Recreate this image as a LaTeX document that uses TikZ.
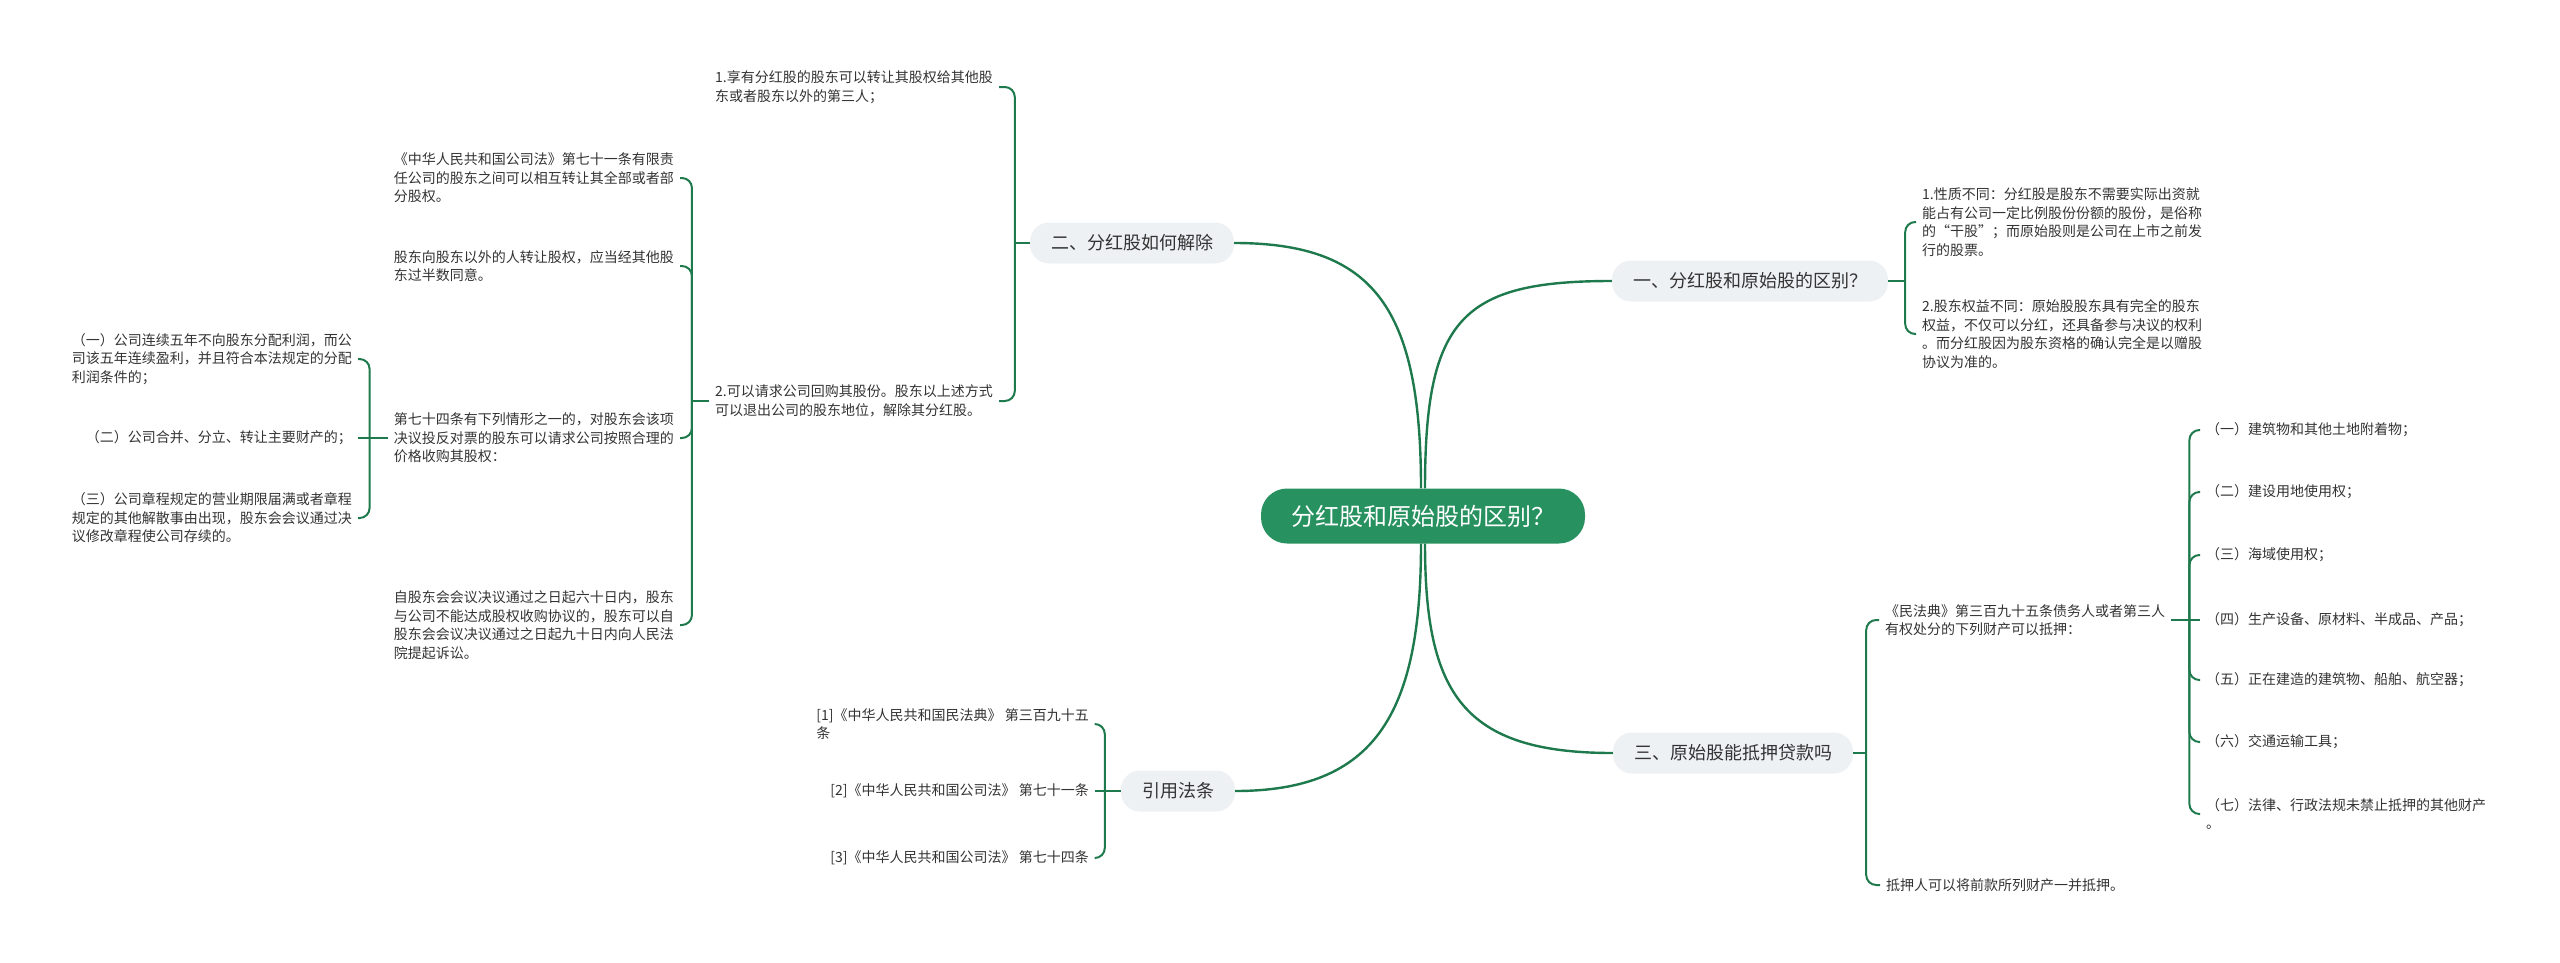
\documentclass[tikz,border=0pt]{standalone}
\usepackage{fontspec}
\setmainfont{Noto Sans CJK SC}
\usepackage{xcolor}
\usepackage{tikz}
\usetikzlibrary{arrows.meta,positioning,calc}
\definecolor{rootgreen}{RGB}{40,145,96}
\definecolor{linegreen}{RGB}{30,122,76}
\definecolor{topicgray}{RGB}{238,241,244}
\definecolor{textgray}{RGB}{51,51,51}
\tikzset{
  rootbox/.style={fill=rootgreen, text=white, rounded corners=26pt,
    minimum height=55pt, inner xsep=30pt, font=\fontsize{24}{28}\selectfont},
  topicbox/.style={fill=topicgray, text=textgray, rounded corners=19pt,
    minimum height=41pt, inner xsep=21pt, font=\fontsize{18}{22}\selectfont},
  leaf/.style={text=textgray, align=left, inner xsep=6pt, inner ysep=2pt,
    font=\fontsize{14}{18.5}\selectfont},
  trunk/.style={draw=linegreen, line width=2.4pt},
  link/.style={draw=linegreen, line width=2pt, rounded corners=10pt}
}

\begin{document}
\begin{tikzpicture}[x=1pt, y=-1pt]
\useasboundingbox (0,0) rectangle (2560,962);
% centre and main topics
\node[rootbox] (root) at (1423,516) {分红股和原始股的区别？};
\node[topicbox] (t1) at (1750,281) {一、分红股和原始股的区别？};
\node[topicbox] (t2) at (1132,243) {二、分红股如何解除};
\node[topicbox] (t3) at (1178,791) {引用法条};
\node[topicbox] (t4) at (1733,753) {三、原始股能抵押贷款吗};

\draw[trunk] ([xshift=2pt]root.north) .. controls +(0,-170) and +(-150,0) .. (t1.west);
\draw[trunk] ([xshift=-2pt]root.north) .. controls +(0,-180) and +(140,0) .. (t2.east);
\draw[trunk] ([xshift=-2pt]root.south) .. controls +(0,170) and +(140,0) .. (t3.east);
\draw[trunk] ([xshift=2pt]root.south) .. controls +(0,150) and +(-150,0) .. (t4.west);

% 一
\coordinate (j1) at ([xshift=17pt]t1.east);
\node[leaf, anchor=west] (a1) at (1916,222) {1.性质不同：分红股是股东不需要实际出资就\\能占有公司一定比例股份份额的股份，是俗称\\的“干股”；而原始股则是公司在上市之前发\\行的股票。};
\node[leaf, anchor=west] (a2) at (1916,334) {2.股东权益不同：原始股股东具有完全的股东\\权益，不仅可以分红，还具备参与决议的权利\\。而分红股因为股东资格的确认完全是以赠股\\协议为准的。};
\draw[link] (t1.east) -- (j1);
\draw[link] (j1) |- (a1.west);
\draw[link] (j1) |- (a2.west);

% 二
\coordinate (j2) at ([xshift=-15pt]t2.west);
\node[leaf, anchor=east] (b1) at (999,87) {1.享有分红股的股东可以转让其股权给其他股\\东或者股东以外的第三人；};
\node[leaf, anchor=east] (b2) at (999,401) {2.可以请求公司回购其股份。股东以上述方式\\可以退出公司的股东地位，解除其分红股。};
\draw[link] (t2.west) -- (j2);
\draw[link] (j2) |- (b1.east);
\draw[link] (j2) |- (b2.east);

\coordinate (jb) at ([xshift=-17pt]b2.west);
\node[leaf, anchor=east] (c1) at (680,178) {《中华人民共和国公司法》第七十一条有限责\\任公司的股东之间可以相互转让其全部或者部\\分股权。};
\node[leaf, anchor=east] (c2) at (680,266) {股东向股东以外的人转让股权，应当经其他股\\东过半数同意。};
\node[leaf, anchor=east] (c3) at (680,438) {第七十四条有下列情形之一的，对股东会该项\\决议投反对票的股东可以请求公司按照合理的\\价格收购其股权：};
\node[leaf, anchor=east] (c4) at (680,625) {自股东会会议决议通过之日起六十日内，股东\\与公司不能达成股权收购协议的，股东可以自\\股东会会议决议通过之日起九十日内向人民法\\院提起诉讼。};
\draw[link] (b2.west) -- (jb);
\draw[link] (jb) |- (c1.east);
\draw[link] (jb) |- (c2.east);
\draw[link] (jb) |- (c3.east);
\draw[link] (jb) |- (c4.east);

\coordinate (jc) at ([xshift=-18pt]c3.west);
\node[leaf, anchor=east] (d1) at (358,359) {（一）公司连续五年不向股东分配利润，而公\\司该五年连续盈利，并且符合本法规定的分配\\利润条件的；};
\node[leaf, anchor=east] (d2) at (358,438) {（二）公司合并、分立、转让主要财产的；};
\node[leaf, anchor=east] (d3) at (358,518) {（三）公司章程规定的营业期限届满或者章程\\规定的其他解散事由出现，股东会会议通过决\\议修改章程使公司存续的。};
\draw[link] (c3.west) -- (jc);
\draw[link] (jc) |- (d1.east);
\draw[link] (jc) -- (d2.east);
\draw[link] (jc) |- (d3.east);

% 引用法条
\coordinate (j3) at ([xshift=-16pt]t3.west);
\node[leaf, anchor=east] (e1) at (1095,724) {[1]《中华人民共和国民法典》 第三百九十五\\条};
\node[leaf, anchor=east] (e2) at (1095,791) {[2]《中华人民共和国公司法》 第七十一条};
\node[leaf, anchor=east] (e3) at (1095,858) {[3]《中华人民共和国公司法》 第七十四条};
\draw[link] (t3.west) -- (j3);
\draw[link] (j3) |- (e1.east);
\draw[link] (j3) -- (e2.east);
\draw[link] (j3) |- (e3.east);

% 三
\coordinate (j4) at ([xshift=13pt]t4.east);
\node[leaf, anchor=west] (f1) at (1879,620) {《民法典》第三百九十五条债务人或者第三人\\有权处分的下列财产可以抵押：};
\node[leaf, anchor=west] (f2) at (1880,885) {抵押人可以将前款所列财产一并抵押。};
\draw[link] (t4.east) -- (j4);
\draw[link] (j4) |- (f1.west);
\draw[link] (j4) |- (f2.west);

\coordinate (jf) at ([xshift=18pt]f1.east);
\node[leaf, anchor=west] (g1) at (2200,430) {（一）建筑物和其他土地附着物；};
\node[leaf, anchor=west] (g2) at (2200,492) {（二）建设用地使用权；};
\node[leaf, anchor=west] (g3) at (2200,555) {（三）海域使用权；};
\node[leaf, anchor=west] (g4) at (2200,620) {（四）生产设备、原材料、半成品、产品；};
\node[leaf, anchor=west] (g5) at (2200,680) {（五）正在建造的建筑物、船舶、航空器；};
\node[leaf, anchor=west] (g6) at (2200,742) {（六）交通运输工具；};
\node[leaf, anchor=west] (g7) at (2200,814) {（七）法律、行政法规未禁止抵押的其他财产\\。};
\draw[link] (f1.east) -- (jf);
\draw[link] (jf) |- (g1.west);
\draw[link] (jf) |- (g2.west);
\draw[link] (jf) |- (g3.west);
\draw[link] (jf) -- (g4.west);
\draw[link] (jf) |- (g5.west);
\draw[link] (jf) |- (g6.west);
\draw[link] (jf) |- (g7.west);
\end{tikzpicture}
\end{document}
